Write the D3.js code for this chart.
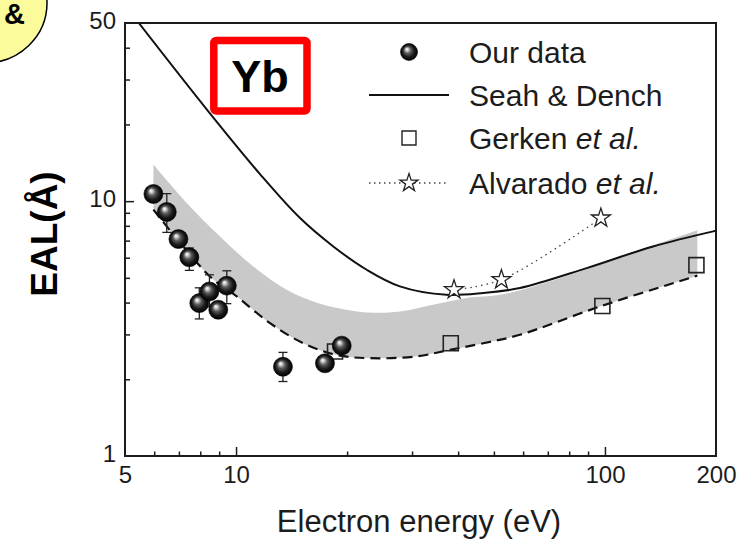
<!DOCTYPE html>
<html><head><meta charset="utf-8">
<script src="https://cdn.jsdelivr.net/npm/d3@7"></script>
<style>
html,body{margin:0;padding:0;background:#fff;}
svg{display:block;font-family:"Liberation Sans",Arial,Helvetica,sans-serif;}
</style></head>
<body><svg id="chart" width="742" height="543"></svg>
<script>
// ---------- data ----------
const ourE   = [5.97, 6.49, 6.98, 7.47, 7.95, 8.47, 8.95, 9.44, 13.4, 17.42, 19.34];
const ourEAL = [10.67, 9.07, 7.10, 6.02, 3.98, 4.42, 3.75, 4.66, 2.24, 2.31, 2.71];
const ourLo  = [null, 7.54, null, 5.35, 3.45, 3.85, null, 3.96, 1.96, null, null];
const ourHi  = [null, 10.70, null, 6.55, 4.57, 5.14, null, 5.33, 2.55, null, null];

const seahE   = [5.45, 8.41, 11.61, 14.91, 18.35, 22.6, 27.8, 37.2, 46.8, 58.8, 89.2, 135, 196.6, 200];
const seahEAL = [50.0, 22.5, 12.77, 8.58, 6.64, 5.38, 4.63, 4.29, 4.36, 4.56, 5.46, 6.64, 7.61, 7.65];

const bandE    = [5.97, 7.35, 9.05, 11.14, 13.72, 16.89, 22.6, 27.8, 34.2, 42.2, 52.4, 71.8, 109, 178];
const bandHigh = [13.91, 9.84, 7.27, 5.54, 4.49, 3.96, 3.66, 3.69, 3.92, 4.17, 4.30, 4.87, 6.03, 7.69];

const dashE   = [5.97, 8.50, 10.04, 12.36, 15.22, 18.75, 23.1, 30.9, 38.0, 46.8, 58.8, 98.4, 178];
const dashEAL = [9.26, 5.06, 4.23, 3.32, 2.77, 2.49, 2.42, 2.46, 2.61, 2.77, 2.99, 3.89, 5.10];

const gerkE   = [18.55, 38.2, 98.4, 177];
const gerkEAL = [2.57, 2.77, 3.88, 5.61];

const alvE   = [38.98, 52.4, 97.5];
const alvEAL = [4.49, 4.92, 8.58];

const xTickValues = [5, 10, 100, 200];
const xTickLabels = ["5", "10", "100", "200"];
const xMinor = [6, 7, 8, 9, 20, 30, 40, 50, 60, 70, 80, 90];
const yTickValues = [1, 10, 50];
const yTickLabels = ["1", "10", "50"];
const yMinor = [2, 3, 4, 5, 6, 7, 8, 9, 20, 30, 40];

const legendLabels = ["Our data", "Seah & Dench", "Gerken ", "Alvarado "];

// ---------- setup ----------
const svg = d3.select("#chart");
const x = d3.scaleLog().domain([5, 200]).range([125, 716]);
const y = d3.scaleLog().domain([1, 50]).range([456, 23]);
const ink = "#1c1c1c";

const defs = svg.append("defs");
const g1 = defs.append("radialGradient").attr("id", "sph")
  .attr("cx", "50%").attr("cy", "50%").attr("r", "50%").attr("fx", "36%").attr("fy", "32%");
[["0%", "#ffffff"], ["14%", "#d8d8d8"], ["40%", "#5a5a5a"], ["70%", "#1c1c1c"], ["100%", "#000"]]
  .forEach(s => g1.append("stop").attr("offset", s[0]).attr("stop-color", s[1]));
defs.append("clipPath").attr("id", "plotclip").append("rect")
  .attr("x", 125).attr("y", 23).attr("width", 591).attr("height", 433);

// neighbour panel fragment (yellow bubble)
svg.append("ellipse").attr("cx", -15).attr("cy", 3).attr("rx", 62).attr("ry", 60)
  .attr("fill", "#fbfb9c").attr("stroke", "#000").attr("stroke-width", 1.5);
svg.append("text").attr("x", 14.5).attr("y", 24).attr("text-anchor", "middle")
  .attr("font-size", 29).attr("font-weight", "bold").attr("fill", "#000").text("&");

const plot = svg.append("g").attr("clip-path", "url(#plotclip)");

// gray band
const curve = d3.curveCatmullRom.alpha(0.5);
const lineGen = d3.line().x(d => x(d[0])).y(d => y(d[1])).curve(curve);
const upper = bandE.map((e, i) => [e, bandHigh[i]]);
const lower = dashE.map((e, i) => [e, dashEAL[i]]).reverse();
const bandPath = lineGen(upper) + "L" + lineGen(lower).slice(1) + "Z";
plot.append("path").attr("d", bandPath).attr("fill", "#c9c9ca").attr("stroke", "none");

// dashed line
plot.append("path").attr("d", lineGen(dashE.map((e, i) => [e, dashEAL[i]])))
  .attr("fill", "none").attr("stroke", "#111").attr("stroke-width", 2.2).attr("stroke-dasharray", "10,6");

// Seah & Dench
plot.append("path").attr("d", lineGen(seahE.map((e, i) => [e, seahEAL[i]])))
  .attr("fill", "none").attr("stroke", "#111").attr("stroke-width", 2);

// Alvarado dotted line + stars
plot.append("path").attr("d", d3.line().x(d => x(d[0])).y(d => y(d[1])).curve(d3.curveCatmullRom)(alvE.map((e, i) => [e, alvEAL[i]])))
  .attr("fill", "none").attr("stroke", "#444").attr("stroke-width", 1.3).attr("stroke-dasharray", "1.5,4");

// Gerken squares
const sq = d3.symbol().type(d3.symbolSquare).size(225);
plot.selectAll(".gerk").data(gerkE).enter().append("path")
  .attr("transform", (d, i) => `translate(${x(d)},${y(gerkEAL[i])})`)
  .attr("d", sq).attr("fill", "none").attr("stroke", "#222").attr("stroke-width", 1.6);

const star = d3.symbol().type(d3.symbolStar).size(112);
plot.selectAll(".alv").data(alvE).enter().append("path")
  .attr("transform", (d, i) => `translate(${x(d)},${y(alvEAL[i])})`)
  .attr("d", star).attr("fill", "#fff").attr("stroke", "#222").attr("stroke-width", 1.3);

// Our data: error bars + spheres
ourE.forEach((e, i) => {
  if (ourLo[i] == null) return;
  const cx = x(e), y0 = y(ourLo[i]), y1 = y(ourHi[i]);
  plot.append("line").attr("x1", cx).attr("x2", cx).attr("y1", y0).attr("y2", y1).attr("stroke", "#222").attr("stroke-width", 1.3);
  [y0, y1].forEach(yy => plot.append("line").attr("x1", cx - 4.5).attr("x2", cx + 4.5).attr("y1", yy).attr("y2", yy)
    .attr("stroke", "#222").attr("stroke-width", 1.3));
});
plot.selectAll(".our").data(ourE).enter().append("circle")
  .attr("cx", d => x(d)).attr("cy", (d, i) => y(ourEAL[i])).attr("r", 9.5)
  .attr("fill", "url(#sph)").attr("stroke", "#000").attr("stroke-width", 0.6);

// ---------- axes ----------
const axX = svg.append("g").attr("transform", "translate(0,456)");
axX.call(d3.axisBottom(x).tickValues(xMinor).tickSize(-4.5).tickFormat(""));
axX.append("g").call(d3.axisBottom(x).tickValues([10, 100]).tickSize(-9).tickFormat(""));
const axXL = svg.append("g").attr("transform", "translate(0,456)")
  .call(d3.axisBottom(x).tickValues(xTickValues).tickSize(0).tickPadding(10)
    .tickFormat((d, i) => xTickLabels[i]));
const axY = svg.append("g").attr("transform", "translate(125,0)");
axY.call(d3.axisLeft(y).tickValues(yMinor).tickSize(-5).tickFormat(""));
axY.append("g").call(d3.axisLeft(y).tickValues([10]).tickSize(-9).tickFormat(""));
const axYL = svg.append("g").attr("transform", "translate(125,0)")
  .call(d3.axisLeft(y).tickValues(yTickValues).tickSize(0).tickPadding(9)
    .tickFormat((d, i) => yTickLabels[i]));
[axX, axY, axXL, axYL].forEach(a => {
  a.selectAll(".domain").remove();
  a.selectAll("line").attr("stroke", ink).attr("stroke-width", 1.5);
  a.selectAll("text").attr("fill", ink).attr("font-size", 24)
    .attr("font-family", "'Liberation Sans',Arial,sans-serif");
});
axYL.selectAll("text").attr("dy", "0.3em").attr("y", -2);
axXL.selectAll("text").attr("dy", "0.71em");

// frame
svg.append("rect").attr("x", 125).attr("y", 23).attr("width", 591).attr("height", 433)
  .attr("fill", "none").attr("stroke", ink).attr("stroke-width", 2);

// axis titles
svg.append("text").attr("x", 419).attr("y", 532).attr("text-anchor", "middle")
  .attr("font-size", 31).attr("fill", ink).text("Electron energy (eV)");
svg.append("text").attr("transform", "translate(57,234) rotate(-90)").attr("text-anchor", "middle")
  .attr("font-size", 37).attr("font-weight", "bold").attr("fill", "#000").text("EAL(Å)");

// Yb box
svg.append("rect").attr("x", 213.8).attr("y", 40.5).attr("width", 93.2).attr("height", 70.5)
  .attr("rx", 2.5).attr("fill", "#fff").attr("stroke", "#ff0000").attr("stroke-width", 7.5);
svg.append("text").attr("x", 260).attr("y", 91.5).attr("text-anchor", "middle")
  .attr("font-size", 45).attr("font-weight", "bold").attr("fill", "#000").text("Yb");

// ---------- legend ----------
const lg = svg.append("g");
const rowY = [52, 95, 138, 183];
const textX = 469;
lg.append("circle").attr("cx", 409).attr("cy", rowY[0]).attr("r", 8.5).attr("fill", "url(#sph)").attr("stroke", "#000").attr("stroke-width", 0.6);
lg.append("line").attr("x1", 369).attr("x2", 449).attr("y1", rowY[1]).attr("y2", rowY[1]).attr("stroke", "#111").attr("stroke-width", 2.2);
lg.append("path").attr("transform", `translate(409,${rowY[2]})`).attr("d", d3.symbol().type(d3.symbolSquare).size(196))
  .attr("fill", "none").attr("stroke", "#222").attr("stroke-width", 1.4);
lg.append("line").attr("x1", 369).attr("x2", 449).attr("y1", rowY[3]).attr("y2", rowY[3])
  .attr("stroke", "#444").attr("stroke-width", 1.3).attr("stroke-dasharray", "1.5,3.5");
lg.append("path").attr("transform", `translate(409,${rowY[3]})`).attr("d", d3.symbol().type(d3.symbolStar).size(100))
  .attr("fill", "#fff").attr("stroke", "#222").attr("stroke-width", 1.3);
legendLabels.forEach((t, i) => {
  const tx = lg.append("text").attr("x", textX).attr("y", rowY[i] + 11).attr("font-size", 30).attr("fill", ink).text(t);
  if (i >= 2) tx.append("tspan").attr("font-style", "italic").text("et al.");
});
</script></body></html>
